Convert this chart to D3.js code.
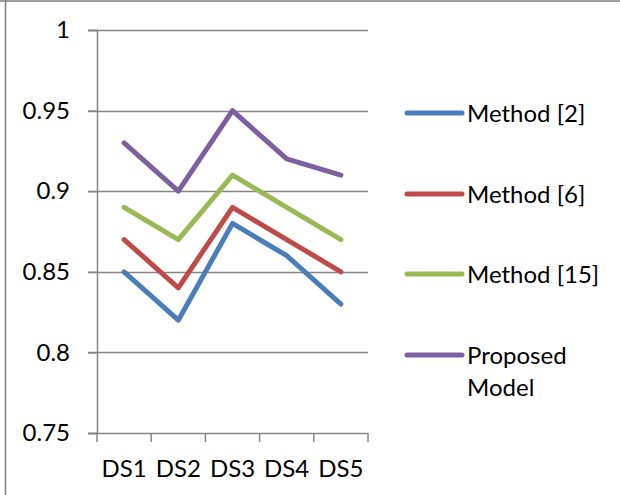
<!DOCTYPE html>
<html>
<head>
<meta charset="utf-8">
<script src="https://cdn.jsdelivr.net/npm/d3@7"></script>
<style>
  html, body { margin: 0; padding: 0; background: #fff; }
  svg { display: block; }
  text { font-family: Lato, "Open Sans", sans-serif; fill: #000; }
</style>
</head>
<body>
<svg id="chart" width="620" height="495"></svg>
<script>
// Data
const categories = ["DS1", "DS2", "DS3", "DS4", "DS5"];
const seriesNames = ["Method [2]", "Method [6]", "Method [15]", "Proposed Model"];
const method2 = [0.85, 0.82, 0.88, 0.86, 0.83];
const method6 = [0.87, 0.84, 0.89, 0.87, 0.85];
const method15 = [0.89, 0.87, 0.91, 0.89, 0.87];
const proposed = [0.93, 0.90, 0.95, 0.92, 0.91];
const yTicks = [0.75, 0.8, 0.85, 0.9, 0.95, 1];
const colors = ["#4a7ebb", "#be4b48", "#98b954", "#7d60a0"];

const series = [method2, method6, method15, proposed].map((vals, i) => ({
  name: seriesNames[i], values: vals, color: colors[i]
}));

const FONT_SIZE = 24;
const svg = d3.select("#chart");

// Outer frame (top and left edges)
svg.append("line").attr("x1", 0).attr("x2", 620).attr("y1", 1).attr("y2", 1)
  .attr("stroke", "#7f7f7f").attr("stroke-width", 1.5);
svg.append("line").attr("x1", 5.5).attr("x2", 5.5).attr("y1", 0).attr("y2", 495)
  .attr("stroke", "#7f7f7f").attr("stroke-width", 1.5);

const plotLeft = 97, plotRight = 368, plotTop = 30, plotBottom = 433;

const x = d3.scaleBand().domain(categories).range([plotLeft, plotRight]);
const y = d3.scaleLinear().domain([0.75, 1]).range([plotBottom, plotTop]);

// Horizontal gridlines with left ticks
const gridG = svg.append("g");
gridG.selectAll("line").data(yTicks.slice(1)).join("line")
  .attr("x1", plotLeft - 9).attr("x2", plotRight)
  .attr("y1", d => Math.round(y(d)) + 0.5).attr("y2", d => Math.round(y(d)) + 0.5)
  .attr("stroke", "#868686").attr("stroke-width", 1.5);

// Y axis
const yAxis = svg.append("g").attr("transform", `translate(${plotLeft},0)`)
  .call(d3.axisLeft(y).tickValues(yTicks).tickSize(9).tickPadding(18)
    .tickFormat(d => d3.format("")(+d.toFixed(2))));
yAxis.select(".domain").attr("stroke", "#868686").attr("stroke-width", 1.5);
yAxis.selectAll(".tick line").attr("stroke", "#868686").attr("stroke-width", 1.5);
yAxis.selectAll(".tick text").attr("font-size", FONT_SIZE)
  .style("font-family", "Lato, sans-serif").attr("fill", "#000");

// X axis
const xAxisG = svg.append("g").attr("transform", `translate(0,${plotBottom})`);
xAxisG.append("line").attr("x1", plotLeft - 9).attr("x2", plotRight)
  .attr("y1", 0.5).attr("y2", 0.5).attr("stroke", "#868686").attr("stroke-width", 1.5);
const boundaries = categories.map(c => x(c)).concat([x(categories[categories.length - 1]) + x.bandwidth()]);
xAxisG.selectAll("line.tk").data(boundaries).join("line").attr("class", "tk")
  .attr("x1", d => d).attr("x2", d => d).attr("y1", 0).attr("y2", 9)
  .attr("stroke", "#868686").attr("stroke-width", 1.5);
xAxisG.selectAll("text").data(categories).join("text")
  .attr("x", d => x(d) + x.bandwidth() / 2).attr("y", 44)
  .attr("text-anchor", "middle").attr("font-size", FONT_SIZE).text(d => d);

// Lines
const line = d3.line()
  .x((d, i) => x(categories[i]) + x.bandwidth() / 2)
  .y(d => y(d));
svg.append("g").selectAll("path").data(series).join("path")
  .attr("d", d => line(d.values))
  .attr("fill", "none").attr("stroke", d => d.color)
  .attr("stroke-width", 5).attr("stroke-linecap", "round").attr("stroke-linejoin", "round");

// Legend
const legendY = [113, 194, 274, 355];
const legend = svg.append("g").selectAll("g").data(series).join("g")
  .attr("transform", (d, i) => `translate(407,${legendY[i]})`);
legend.append("line").attr("x1", 0).attr("x2", 55).attr("y1", 0).attr("y2", 0)
  .attr("stroke", d => d.color).attr("stroke-width", 5).attr("stroke-linecap", "round");
legend.each(function(d) {
  const words = d.name === "Proposed Model" ? ["Proposed", "Model"] : [d.name];
  const t = d3.select(this).append("text").attr("x", 60).attr("y", 8.5).attr("font-size", FONT_SIZE);
  words.forEach((w, k) => t.append("tspan").attr("x", 60).attr("dy", k === 0 ? 0 : 32).text(w));
});
</script>
</body>
</html>
